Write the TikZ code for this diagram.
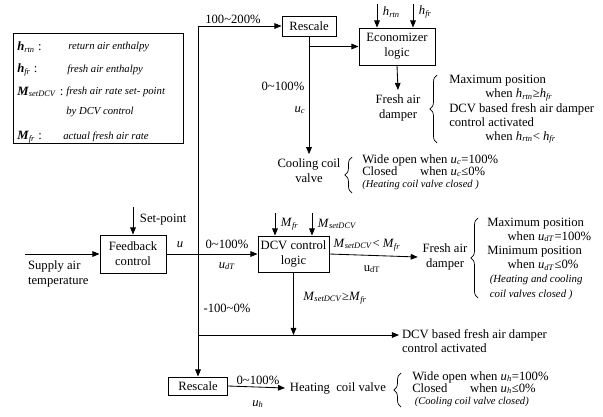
\documentclass[tikz,border=0pt]{standalone}
\usepackage{fontspec}
\setmainfont{Liberation Serif}
\usetikzlibrary{positioning, arrows.meta, decorations.pathreplacing, calc}

\newcommand{\ivar}[2]{\textit{#1}\textsubscript{\textit{#2}}}
\newcommand{\bvar}[2]{\textbf{\textit{#1}}\textsubscript{\textit{#2}}}

\begin{document}
\begin{tikzpicture}[
  x=0.025cm, y=-0.025cm,
  font=\fontsize{9}{10.5}\selectfont,
  block/.style={draw, line width=0.7pt, align=center, inner sep=1pt},
  arrow/.style={-{Triangle[length=5pt, width=4pt]}, line width=0.6pt},
  bracket/.style={decorate, decoration={brace, amplitude=5pt}, line width=0.5pt},
  note/.style={align=left, anchor=west, inner sep=0pt},
  legend/.style={font=\fontsize{7.6}{9}\selectfont\itshape, anchor=west, inner sep=0pt},
  symb/.style={font=\fontsize{9}{10}\selectfont, anchor=west, inner sep=0pt}
]
  \useasboundingbox (0,0) rectangle (603,416);

  % legend
  \draw[line width=0.6pt] (13,33) rectangle (183,143);
  \node[symb] (lg1s) at (17,47) {\bvar{h}{rtn} :};
  \node[legend] (lg1d) at (68,47) {return air enthalpy};
  \node[symb] (lg2s) at (17,70) {\bvar{h}{fr} :};
  \node[legend] (lg2d) at (67,70) {fresh air enthalpy};
  \node[symb] (lg3s) at (17,92) {\bvar{M}{setDCV} :};
  \node[legend] (lg3d) at (66,92) {fresh air rate set- point};
  \node[legend] (lg3e) at (66,112) {by DCV control};
  \node[symb] (lg4s) at (17,137) {\bvar{M}{fr} :};
  \node[legend] (lg4d) at (63,137) {actual fresh air rate};

  % blocks
  \node[block, minimum width=1.35cm, minimum height=0.5cm] (rescTop) at (309,26) {Rescale};
  \node[block, minimum width=1.9cm, minimum height=0.925cm] (econ) at (397,46.5) {Economizer\\logic};
  \node[block, minimum width=1.65cm, minimum height=0.95cm] (fbk) at (133,254) {Feedback\\control};
  \node[block, minimum width=1.775cm, minimum height=0.9cm] (dcv) at (293.5,254) {DCV control\\logic};
  \node[block, minimum width=1.475cm, minimum height=0.45cm] (rescBot) at (198,386) {Rescale};

  % outputs
  \node[align=center] (damperTop) at (398,108) {Fresh air\\damper};
  \node[align=center] (coolValve) at (309,171) {Cooling coil\\valve};
  \node[align=center] (damperDcv) at (445,257) {Fresh air\\damper};
  \node[note, inner sep=2pt] (supply) at (25,274) {Supply air\\temperature};
  \node[note, inner sep=2pt] (dcvAct) at (399,341) {DCV based fresh air damper\\control activated};
  \node[anchor=west] (heatValve) at (285,388) {Heating\ \ coil valve};

  % free ends
  \coordinate (jTop) at (198,26);
  \coordinate (jBot) at (198,335);
  \coordinate (supplyIn) at (25,254);
  \coordinate (hrtnIn) at (377,4);
  \coordinate (hfrIn) at (413,4);
  \coordinate (setIn) at (133,207);
  \coordinate (mfrIn) at (275,213);
  \coordinate (msetIn) at (312,213);

  % connectors
  \draw[arrow] (jTop) -- (rescTop.west);
  \draw[arrow] (jTop) -- (rescBot.north);
  \draw[arrow] (rescTop.south) -- (coolValve.north);
  \draw[arrow] (rescTop.south |- econ.west) -- (econ.west);
  \draw[arrow] (econ.south) -- (damperTop.north);
  \draw[arrow] (hrtnIn) -- (hrtnIn |- econ.north);
  \draw[arrow] (hfrIn) -- (hfrIn |- econ.north);
  \draw[arrow] (supplyIn) -- (fbk.west);
  \draw[arrow] (setIn) -- (fbk.north);
  \draw[arrow] (fbk.east) -- (dcv.west);
  \draw[arrow] (mfrIn) -- (mfrIn |- dcv.north);
  \draw[arrow] (msetIn) -- (msetIn |- dcv.north);
  \draw[arrow] (dcv.east) -- (damperDcv.west);
  \draw[arrow] (dcv.south) -- (dcv.south |- jBot);
  \draw[arrow] (jBot) -- (jBot -| dcvAct.west);
  \draw[arrow] (rescBot.east) -- (heatValve.west);

  % connector labels
  \node (lblTop) at (233,19) {100\textasciitilde200\%};
  \node (lblCool) at (283,86) {0\textasciitilde100\%};
  \node (lblUc) at (300,110) {\ivar{u}{c}};
  \node (lblU) at (180,245) {\textit{u}};
  \node (lblDt) at (227,244) {0\textasciitilde100\%};
  \node (lblUdt) at (227,266) {\ivar{u}{dT}};
  \node (lblLess) at (367,245) {\ivar{M}{setDCV}< \ivar{M}{fr}};
  \node (lblUdtb) at (372,269) {u\textsubscript{dT}};
  \node (lblGeq) at (335,298) {\ivar{M}{setDCV}≥\ivar{M}{fr}};
  \node (lblNeg) at (227,308) {-100\textasciitilde0\%};
  \node (lblHeat) at (258,380) {0\textasciitilde100\%};
  \node (lblUh) at (258,404) {\ivar{u}{h}};
  \node[anchor=west] (lblSet) at (135,220) {Set-point};
  \node[anchor=west] (lblHrtn) at (378,12) {\ivar{h}{rtn}};
  \node[anchor=west] (lblHfr) at (414,12) {\ivar{h}{fr}};
  \node[anchor=west] (lblMfr) at (276,224) {\ivar{M}{fr}};
  \node[anchor=west] (lblMset) at (313,224) {\ivar{M}{setDCV}};

  % braces and conditions
  \draw[bracket] (437,143) -- (437,75);
  \node[note, font=\fontsize{9}{10.1}\selectfont] (econNote) at (449,109.5)
    {Maximum position\\
     \hspace*{2.85em}when \ivar{h}{rtn}≥\ivar{h}{fr}\\
     DCV based fresh air damper\\
     control activated\\
     \hspace*{2.85em}when \ivar{h}{rtn}< \ivar{h}{fr}};

  \draw[bracket] (352,193) -- (352,157);
  \node[note, font=\fontsize{9}{8.4}\selectfont] (coolNote) at (362,172)
    {Wide open when \ivar{u}{c}=100\%\\
     \rlap{Closed}\phantom{Wide open }when \ivar{u}{c}≤0\%\\
     {\fontsize{7.5}{8}\selectfont\itshape(Heating coil valve closed )}};

  \draw[bracket] (478,298) -- (478,218);
  \node[note, font=\fontsize{9}{10.1}\selectfont] (dcvNote) at (487,258.5)
    {Maximum position\\
     \hspace*{1.6em}when \ivar{u}{dT}=100\%\\
     Minimum position\\
     \hspace*{1.6em}when \ivar{u}{dT}≤0\%\\
     \hspace*{0.2em}{\fontsize{7.7}{9}\selectfont\itshape(Heating and cooling}\\
     \hspace*{0.2em}{\fontsize{7.7}{9}\selectfont\itshape coil valves closed )}};

  \draw[bracket] (401,407) -- (401,373);
  \node[note, font=\fontsize{9}{8.6}\selectfont] (heatNote) at (412,389)
    {Wide open when \ivar{u}{h}=100\%\\
     \rlap{Closed}\phantom{Wide open }when \ivar{u}{h}≤0\%\\
     \hspace*{0.2em}{\fontsize{7.5}{8}\selectfont\itshape(Cooling coil valve closed)}};
\end{tikzpicture}
\end{document}
